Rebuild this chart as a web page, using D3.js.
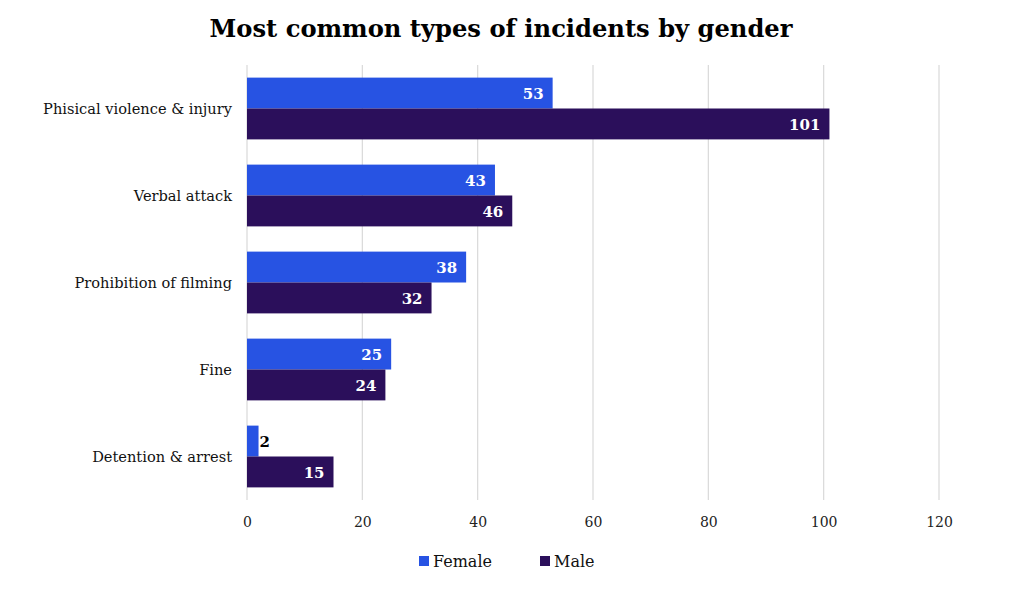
<!DOCTYPE html>
<html><head><meta charset="utf-8">
<script src="https://cdn.jsdelivr.net/npm/d3@7"></script>
<style>body{margin:0;background:#fff}svg{display:block}</style>
</head><body>
<svg id="c" width="1024" height="608"></svg>
<script>
const categories = ["Phisical violence & injury","Verbal attack","Prohibition of filming","Fine","Detention & arrest"];
const series = ["Female","Male"];
const female = [53,43,38,25,2];
const male = [101,46,32,24,15];
const ticks = [0,20,40,60,80,100,120];
const colors = {Female:"#2753e3", Male:"#2b0f5b"};
const font = "'DejaVu Serif', Georgia, serif";

const svg = d3.select("#c");
const x = d3.scaleLinear().domain([0,120]).range([247,939]);
const y = d3.scaleBand().domain(categories).range([65,500]).paddingInner(0.29).paddingOuter(0.145);
const ys = d3.scaleBand().domain(series).range([0,y.bandwidth()]);

svg.append("text").attr("x",501).attr("y",37).attr("text-anchor","middle")
  .attr("font-family",font).attr("font-weight","bold").attr("font-size",24.2).attr("fill","#000")
  .text("Most common types of incidents by gender");

// grid
svg.append("g").selectAll("line").data(ticks).join("line")
  .attr("x1",d=>x(d)).attr("x2",d=>x(d)).attr("y1",65).attr("y2",500)
  .attr("stroke","#d9d9d9").attr("stroke-width",1.2);

// axis
const ax = svg.append("g").attr("transform","translate(0,500)").call(d3.axisBottom(x).tickValues(ticks).tickSize(0).tickPadding(17));
ax.select(".domain").remove();
ax.selectAll("text").attr("font-family",font).attr("font-size",14).attr("fill","#222");

// category labels
svg.append("g").selectAll("text").data(categories).join("text")
  .attr("x",232).attr("y",d=>y(d)+y.bandwidth()/2).attr("dy","0.35em").attr("text-anchor","end")
  .attr("font-family",font).attr("font-size",14.6).attr("fill","#111").text(d=>d);

const rows = categories.map((c,i)=>({c, vals:[{s:"Female",v:female[i]},{s:"Male",v:male[i]}]}));
const g = svg.append("g").selectAll("g").data(rows).join("g").attr("transform",d=>`translate(0,${y(d.c)})`);
g.selectAll("rect").data(d=>d.vals).join("rect")
  .attr("x",x(0)).attr("y",d=>ys(d.s)).attr("width",d=>x(d.v)-x(0)).attr("height",ys.bandwidth())
  .attr("fill",d=>colors[d.s]);
g.selectAll("text").data(d=>d.vals).join("text")
  .attr("x",d=>{const w=x(d.v)-x(0); return w>30 ? x(d.v)-9 : x(d.v)+1;})
  .attr("y",d=>ys(d.s)+ys.bandwidth()/2).attr("dy","0.38em")
  .attr("text-anchor",d=>(x(d.v)-x(0))>30?"end":"start")
  .attr("font-family",font).attr("font-weight","bold").attr("font-size",15)
  .attr("fill",d=>(x(d.v)-x(0))>30?"#fff":"#000").text(d=>d.v);

// legend
const lg = svg.append("g").selectAll("g").data(series).join("g")
  .attr("transform",(d,i)=>`translate(${i?540:419},561)`);
lg.append("rect").attr("x",0).attr("y",-5).attr("width",10).attr("height",10).attr("fill",d=>colors[d]);
lg.append("text").attr("x",14).attr("y",0).attr("dy","0.35em")
  .attr("font-family",font).attr("font-size",16).attr("fill","#111").text(d=>d);
</script>
</body></html>
